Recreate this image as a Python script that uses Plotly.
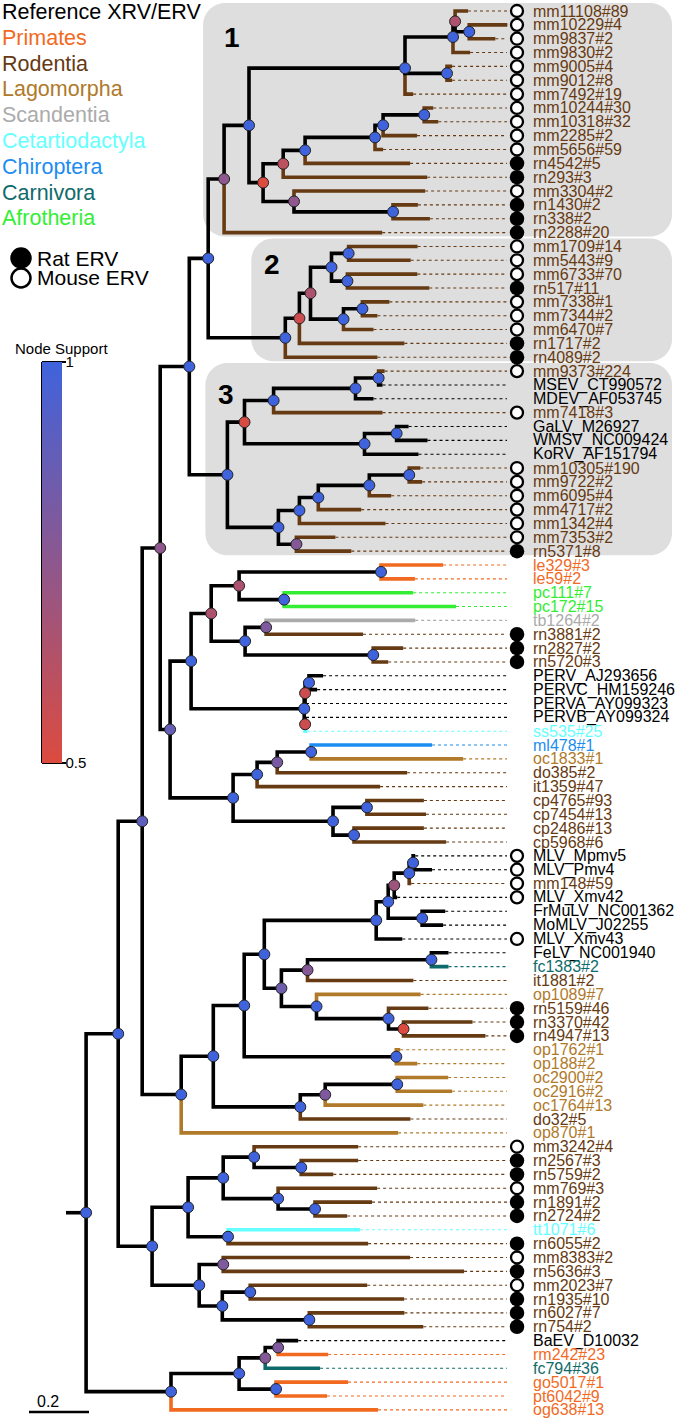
import re
import plotly.graph_objects as go

# ------------------------------------------------------------------
# DATA: tree topology, branch lengths (subst./site) and node support,
# written as Newick fragments for each clade.
# ------------------------------------------------------------------
C1_TOP = "(((mm11108#89:0.043,(mm10229#4:0.127,mm9837#2:0.087)1:0.047)0.65:0.007,mm9830#2:0.057)1:0.160,(mm9005#4:0.017,mm9012#8:0.017)1:0.140,mm7492#19:0.027)1:0.520"
C1_BOT = "((((((mm10244#30:0.030,mm10318#32:0.047)1:0.137,mm2285#2:0.113)1:0.027,mm5656#59:0.027)1:0.233,rn4542#5:0.350)1:0.073,rn293#3:0.480)0.6:0.067,(mm3304#2:0.437,(rn1430#2:0.083,rn338#2:0.123)1:0.330)0.75:0.103)0.5:0.047"
CLADE1 = "((" + C1_TOP + "," + C1_BOT + ")1:0.083,rn2288#20:0.527)0.75:0.053"
CLADE2 = "(((((mm1709#14:0.230,mm5443#9:0.207)1:0.057,(mm6733#70:0.233,rn517#11:0.273)1:0.053)1:0.070,((mm7338#1:0.090,mm7344#2:0.050)1:0.063,mm6470#7:0.100)1:0.110)0.65:0.037,rn1717#2:0.350)0.55:0.047,rn4089#2:0.307)1:0.257"
C3_A = "((((mm9373#224:0.020,MSEV_CT990572:0.013)1:0.077,MDEV_AF053745:0.060)1:0.273,mm7418#3:0.363)1:0.097,((GaLV_M26927:0.040,WMSV_NC009424:0.103)1:0.107,KoRV_AF151794:0.180)1:0.400)0.52:0.057"
C3_B = "(((((mm10305#190:0.037,mm9722#2:0.043)1:0.133,mm6095#4:0.073)1:0.170,mm4717#2:0.143)1:0.063,mm1342#4:0.287)1:0.070,(mm7353#2:0.130,rn5371#8:0.183)0.78:0.060)1:0.170"
CLADE3 = "(" + C3_A + "," + C3_B + ")1:0.127"
PP_CLADE = "(((le329#3:0.207,le59#2:0.113)1:0.473,(pc111#7:0.430,pc172#15:0.573)1:0.150)0.65:0.093,((tb1264#2:0.497,rn3881#2:0.323)0.8:0.070,(rn2827#2:0.100,rn5720#3:0.050)1:0.427)1:0.113)0.65:0.067"
PERV_CLADE = "(((PERV_AJ293656:0.047,PERVC_HM159246:0.027)1:0.013,PERVA_AY099323:0.003)0.55:0.003,(PERVB_AY099324:0.003,ss535#25:0.007)0.55:0.003)1:0.377"
OO_CLADE = "((((ml478#1:0.403,oc1833#1:0.507)1:0.113,do385#2:0.433)0.82:0.067,it1359#47:0.410)1:0.080,((cp4765#93:0.190,cp7454#13:0.197)1:0.113,(cp2486#13:0.233,cp5968#6:0.307)1:0.070)1:0.333)1:0.210"
MM_CLADE = "((" + PP_CLADE + "," + PERV_CLADE + ")1:0.070," + OO_CLADE + ")0.88:0.033"
LL_CLADE = "(((" + CLADE1 + "," + CLADE2 + ")1:0.063," + CLADE3 + ")1:0.097," + MM_CLADE + ")0.75:0.060"
MLV_CLADE = "(((((MLV_Mpmv5:0.007,MLV_Pmv4:0.063)1:0.013,mm148#59:0.007)1:0.050,MLV_Xmv42:0.010)0.7:0.020,(FrMuLV_NC001362:0.077,MoMLV_J02255:0.070)1:0.113)1:0.040,MLV_Xmv43:0.087)1:0.373"
FELV_CLADE = "(((FeLV_NC001940:0.057,fc1383#2:0.057)1:0.413,it1881#2:0.353)0.78:0.087,(op1089#7:0.347,(rn5159#46:0.133,(rn3370#42:0.230,rn4947#13:0.273)0.5:0.050)1:0.240)1:0.117)0.85:0.057"
JJJ_CLADE = "((" + MLV_CLADE + "," + FELV_CLADE + ")1:0.067,(op1762#1:0.013,op188#2:0.070)1:0.507)1:0.103"
KKK_CLADE = "(((oc2900#2:0.170,oc2916#2:0.183)1:0.240,oc1764#13:0.327)0.8:0.083,do32#5:0.367)1:0.290"
HHH_CLADE = "((" + JJJ_CLADE + "," + KKK_CLADE + ")1:0.107,op870#1:0.723)1:0.130"
GGG_CLADE = "(" + LL_CLADE + "," + HHH_CLADE + ")0.9:0.080"
VVV_CLADE = "((((mm3242#4:0.347,(rn2567#3:0.190,rn5759#2:0.107)1:0.157)1:0.103,(mm769#3:0.330,(rn1891#2:0.190,rn2724#2:0.107)1:0.123)1:0.183)1:0.117,(tt1071#6:0.440,rn6055#2:0.467)1:0.133)1:0.120,((mm8383#2:0.623,rn5636#3:0.803)0.8:0.080,((mm2023#7:0.390,rn1935#10:0.513)1:0.093,(rn6027#7:0.317,rn754#2:0.380)1:0.290)1:0.077)1:0.157)1:0.113"
BAEV_CLADE = "((((BaEV_D10032:0.067,rm242#23:0.167)0.8:0.043,fc794#36:0.183)0.78:0.087,(go5017#1:0.240,pt6042#9:0.170)1:0.123)1:0.227,og638#13:0.690)1:0.283"
TREE = "((" + GGG_CLADE + "," + VVV_CLADE + ")1:0.107," + BAEV_CLADE + ")1:0.067;"

GROUPS = ["Reference XRV/ERV", "Primates", "Rodentia", "Lagomorpha", "Scandentia",
          "Cetartiodactyla", "Chiroptera", "Carnivora", "Afrotheria"]
GROUP_COLORS = ["#000000", "#F26A1F", "#663A12", "#B07A2A", "#ABABAB",
                "#66FFFF", "#1D8CF0", "#0F6B6B", "#33EE33"]
PREFIX_GROUP = {"mm": "Rodentia", "rn": "Rodentia", "it": "Rodentia", "do": "Rodentia",
                "cp": "Rodentia", "le": "Primates", "rm": "Primates", "go": "Primates",
                "pt": "Primates", "og": "Primates", "oc": "Lagomorpha", "op": "Lagomorpha",
                "tb": "Scandentia", "ss": "Cetartiodactyla", "tt": "Cetartiodactyla",
                "ml": "Chiroptera", "fc": "Carnivora", "pc": "Afrotheria"}
RAT_PREFIXES = ["rn"]
MOUSE_PREFIXES = ["mm", "MLV_"]
CLADE_BOXES = [("1", 1, 17), ("2", 18, 26), ("3", 27, 40)]   # label, first leaf, last leaf
SUPPORT_RANGE = [0.5, 1.0]
SCALE_BAR = 0.2

# ------------------------------------------------------------------
# Layout constants (pixels)
# ------------------------------------------------------------------
W, H = 677, 1420
ORIGIN_PX, PX_PER_UNIT = 66, 300.0
TOP_PX, STEP_PX = 11, 13.85
DOT_END_PX, ERV_PX, LABEL_PX = 507, 517, 532
FONT = "Liberation Sans, Arial, sans-serif"
COLOR_OF = dict(zip(GROUPS, GROUP_COLORS))


def dx(p):
    return (p - ORIGIN_PX) / PX_PER_UNIT


def px_x(d):
    return ORIGIN_PX + d * PX_PER_UNIT


def px_y(i):
    return TOP_PX + (i - 1) * STEP_PX


def pap(xp, yp):
    return xp / W, 1 - yp / H


# ------------------------------------------------------------------
# Newick parsing and layout
# ------------------------------------------------------------------
def parse_newick(s):
    toks = re.findall(r"[(),;]|:[-0-9.eE]+|[^(),:;]+", s)
    pos = 0

    def node():
        nonlocal pos
        n = {"children": [], "name": None, "support": None, "length": 0.0}
        if toks[pos] == "(":
            pos += 1
            while True:
                n["children"].append(node())
                if toks[pos] == ",":
                    pos += 1
                    continue
                if toks[pos] == ")":
                    pos += 1
                    break
        if pos < len(toks) and toks[pos] not in ("(", ")", ",", ";") and not toks[pos].startswith(":"):
            lab = toks[pos].strip()
            pos += 1
            if n["children"]:
                n["support"] = float(lab)
            else:
                n["name"] = lab
        if pos < len(toks) and toks[pos].startswith(":"):
            n["length"] = float(toks[pos][1:])
            pos += 1
        return n

    return node()


root = parse_newick(TREE)
leaves = []
internals = []


def layout(n, depth):
    n["x"] = depth + n["length"]
    if n["children"]:
        for c in n["children"]:
            layout(c, n["x"])
        n["y"] = sum(c["y"] for c in n["children"]) / len(n["children"])
        internals.append(n)
    else:
        leaves.append(n)
        n["y"] = len(leaves)


layout(root, 0.0)


def group_of(name):
    if "_" in name:
        return "Reference XRV/ERV"
    return PREFIX_GROUP[name[:2]]


def erv_of(name):
    if any(name.startswith(p) for p in RAT_PREFIXES):
        return "rat"
    if any(name.startswith(p) for p in MOUSE_PREFIXES):
        return "mouse"
    return None


for lf in leaves:
    lf["group"] = group_of(lf["name"])
    lf["color"] = COLOR_OF[lf["group"]]

# ------------------------------------------------------------------
# Build figure
# ------------------------------------------------------------------
fig = go.Figure()

segs = {}


def add_branches(n):
    for c in n["children"]:
        col = c["color"] if not c["children"] else "#000000"
        xs, ys = segs.setdefault(col, ([], []))
        xs += [n["x"], n["x"], c["x"], None]
        ys += [n["y"], c["y"], c["y"], None]
        add_branches(c)


add_branches(root)
bx, by = segs.setdefault("#000000", ([], []))
bx += [0.0, root["x"], None]
by += [root["y"], root["y"], None]

# dotted leader lines
dots = {}
for lf in leaves:
    xs, ys = dots.setdefault(lf["color"], ([], []))
    xs += [lf["x"], dx(DOT_END_PX), None]
    ys += [lf["y"], lf["y"], None]
for col, (xs, ys) in dots.items():
    fig.add_trace(go.Scatter(x=xs, y=ys, mode="lines", hoverinfo="skip",
                             line=dict(color=col, width=1.1, dash="dot"), showlegend=False))

for col in [c for c in segs if c != "#000000"] + ["#000000"]:
    xs, ys = segs[col]
    fig.add_trace(go.Scatter(x=xs, y=ys, mode="lines", hoverinfo="skip",
                             line=dict(color=col, width=3.6), showlegend=False))

# ERV circles
rat = [lf for lf in leaves if erv_of(lf["name"]) == "rat"]
mouse = [lf for lf in leaves if erv_of(lf["name"]) == "mouse"]
fig.add_trace(go.Scatter(x=[dx(ERV_PX)] * len(mouse), y=[lf["y"] for lf in mouse], mode="markers",
                         marker=dict(size=12, color="white", line=dict(color="black", width=2.3)),
                         showlegend=False, hoverinfo="skip"))
fig.add_trace(go.Scatter(x=[dx(ERV_PX)] * len(rat), y=[lf["y"] for lf in rat], mode="markers",
                         marker=dict(size=14.5, color="black", line=dict(width=0)),
                         showlegend=False, hoverinfo="skip"))

# node support markers + colorbar
CSCALE = [[0.0, "#DC4B3F"], [1.0, "#3F63DC"]]
fig.add_trace(go.Scatter(
    x=[n["x"] for n in internals], y=[n["y"] for n in internals], mode="markers",
    marker=dict(size=11, color=[n["support"] for n in internals], colorscale=CSCALE,
                cmin=SUPPORT_RANGE[0], cmax=SUPPORT_RANGE[1],
                line=dict(color="#222222", width=1),
                colorbar=dict(x=42 / W, xanchor="left", xpad=0, y=1 - 362 / H, yanchor="top", ypad=0,
                              len=401, lenmode="pixels", thickness=20, thicknessmode="pixels",
                              tickvals=SUPPORT_RANGE, ticktext=["0.5", "1"], ticks="",
                              outlinewidth=0, tickfont=dict(size=15, family=FONT, color="black"))),
    showlegend=False, hoverinfo="skip"))

# scale bar
ybar = len(leaves) + 0.15
fig.add_trace(go.Scatter(x=[dx(29), dx(29) + SCALE_BAR], y=[ybar, ybar], mode="lines",
                         line=dict(color="black", width=2.5), showlegend=False, hoverinfo="skip"))

shapes = []
annotations = []


def rounded_rect(x0, y0, x1, y1, r):
    k = 0.5523 * r
    pts = [("M", [(x0 + r, y0)]), ("L", [(x1 - r, y0)]),
           ("C", [(x1 - r + k, y0), (x1, y0 + r - k), (x1, y0 + r)]), ("L", [(x1, y1 - r)]),
           ("C", [(x1, y1 - r + k), (x1 - r + k, y1), (x1 - r, y1)]), ("L", [(x0 + r, y1)]),
           ("C", [(x0 + r - k, y1), (x0, y1 - r + k), (x0, y1 - r)]), ("L", [(x0, y0 + r)]),
           ("C", [(x0, y0 + r - k), (x0 + r - k, y0), (x0 + r, y0)])]
    out = []
    for cmd, ps in pts:
        out.append(cmd + " " + " ".join("%.5f,%.5f" % pap(a, b) for a, b in ps))
    return " ".join(out) + " Z"


# clade boxes: left edge relative to the clade's crown node
BOX_LEFT_PAD = {"1": 21, "2": 34, "3": 22}
BOX_NUM_POS = {"1": (232, 38), "2": (272, 265), "3": (226, 394)}


def mrca(first, last):
    best = None

    def walk(n):
        nonlocal best
        ls = []

        def collect(m):
            if m["children"]:
                for c in m["children"]:
                    collect(c)
            else:
                ls.append(m["y"])
        collect(n)
        if min(ls) == first and max(ls) == last:
            best = n
        for c in n["children"]:
            walk(c)
    walk(root)
    return best


for lab, a, b in CLADE_BOXES:
    node = mrca(a, b)
    x0 = px_x(node["x"]) - BOX_LEFT_PAD[lab]
    y0 = px_y(a) - 8
    y1 = px_y(b) + 4
    shapes.append(dict(type="path", path=rounded_rect(x0, y0, 672, y1, 22), xref="paper", yref="paper",
                       fillcolor="#DEDEDE", line=dict(width=0), layer="below"))
    px0, py0 = pap(*BOX_NUM_POS[lab])
    annotations.append(dict(x=px0, y=py0, xref="paper", yref="paper", text="<b>%s</b>" % lab,
                            showarrow=False, font=dict(size=28, family=FONT, color="black"),
                            xanchor="center", yanchor="middle"))

# leaf labels
for lf in leaves:
    annotations.append(dict(x=dx(LABEL_PX), y=lf["y"], xref="x", yref="y", text=lf["name"],
                            showarrow=False, xanchor="left", yanchor="middle", borderpad=0,
                            font=dict(size=16, family=FONT, color=lf["color"])))

# group legend
for i, (g, c) in enumerate(zip(GROUPS, GROUP_COLORS)):
    xp, yp = pap(1, 12 + i * 25.8)
    annotations.append(dict(x=xp, y=yp, xref="paper", yref="paper", text=g, showarrow=False,
                            xanchor="left", yanchor="middle", borderpad=0,
                            font=dict(size=21.5, family=FONT, color=c)))

# ERV legend
for yy, fill, txt in [(258, "black", "Rat ERV"), (278, "white", "Mouse ERV")]:
    xa, ya = pap(11.5, yy - 9.5)
    xb, yb = pap(30.5, yy + 9.5)
    shapes.append(dict(type="circle", xref="paper", yref="paper", x0=xa, x1=xb, y0=yb, y1=ya,
                       fillcolor=fill, line=dict(color="black", width=2.5)))
    xp, yp = pap(36, yy)
    annotations.append(dict(x=xp, y=yp, xref="paper", yref="paper", text=txt, showarrow=False,
                            xanchor="left", yanchor="middle", borderpad=0,
                            font=dict(size=21, family=FONT, color="black")))

# colorbar title + bracket
xp, yp = pap(61, 348)
annotations.append(dict(x=xp, y=yp, xref="paper", yref="paper", text="Node Support", showarrow=False,
                        xanchor="center", yanchor="middle", font=dict(size=15, family=FONT, color="black")))
for (xa, ya, xb, yb) in [(42, 362, 42, 763), (42, 362, 66, 362), (42, 763, 66, 763)]:
    p0 = pap(xa, ya)
    p1 = pap(xb, yb)
    shapes.append(dict(type="line", xref="paper", yref="paper", x0=p0[0], y0=p0[1], x1=p1[0], y1=p1[1],
                       line=dict(color="black", width=2)))

# scale label
xp, yp = pap(48, 1401)
annotations.append(dict(x=xp, y=yp, xref="paper", yref="paper", text=str(SCALE_BAR), showarrow=False,
                        xanchor="center", yanchor="middle", font=dict(size=16, family=FONT, color="black")))

fig.update_layout(
    width=W, height=H, margin=dict(l=0, r=0, t=0, b=0),
    paper_bgcolor="white", plot_bgcolor="white",
    xaxis=dict(visible=False, range=[dx(0), dx(W)], fixedrange=True),
    yaxis=dict(visible=False, range=[1 + (H - TOP_PX) / STEP_PX, 1 - TOP_PX / STEP_PX], fixedrange=True),
    shapes=shapes, annotations=annotations, showlegend=False,
)

fig.write_html("out.html", config={"displayModeBar": False},
               post_script="document.body.style.margin='0px';document.body.style.overflow='hidden';")
